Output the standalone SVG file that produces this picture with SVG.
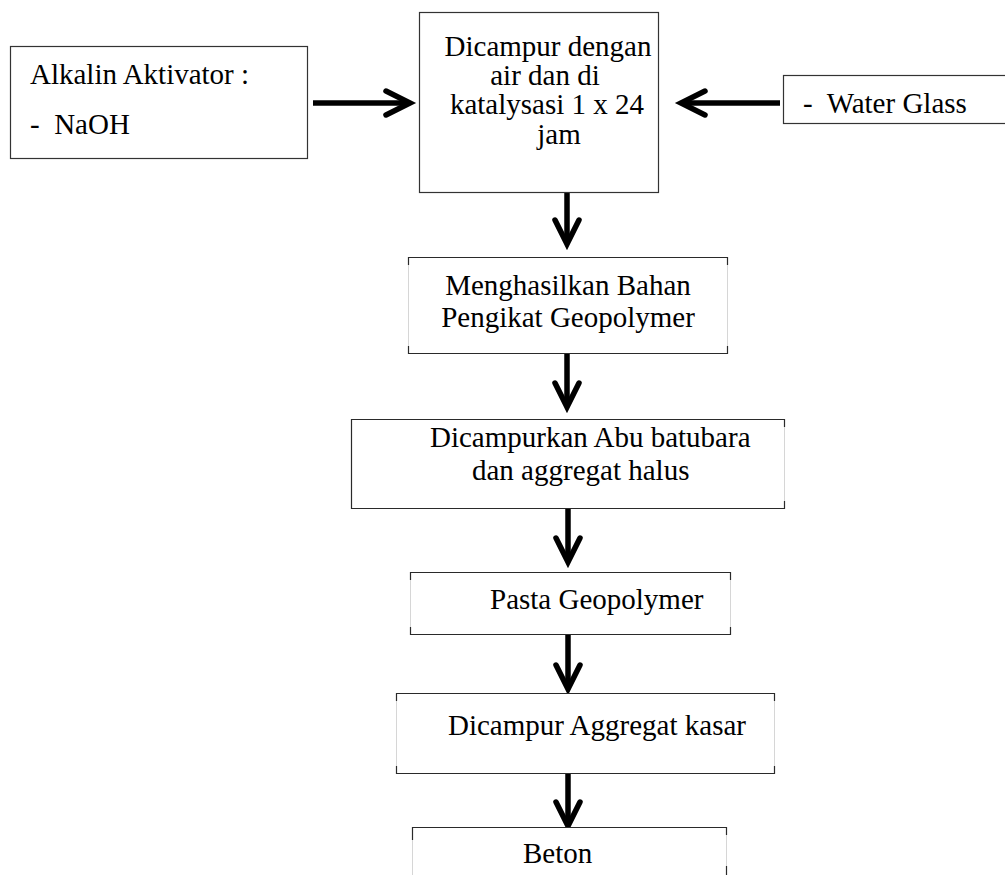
<svg xmlns="http://www.w3.org/2000/svg" width="1005" height="875" viewBox="0 0 1005 875">
  <style>
    .lbl { font-family: "Liberation Serif", "Times New Roman", serif; font-size: 29px; fill: #000; }
    .mid { text-anchor: middle; }
    .box { fill: #fff; stroke: #d6d6d6; stroke-width: 1; }
    .full { fill: #fff; stroke: #333; stroke-width: 1.2; }
    .dark { fill: none; stroke: #2a2a2a; stroke-width: 1.2; }
    .arrow { fill: none; stroke: #000; stroke-width: 5.5; marker-end: url(#chev); }
  </style>
  <defs>
    <marker id="chev" markerUnits="userSpaceOnUse" viewBox="-32 -20 40 40" markerWidth="40" markerHeight="40" refX="0" refY="0" orient="auto">
      <path d="M-24,-12 L0,0 L-24,12" fill="none" stroke="#000" stroke-width="5.5" stroke-linejoin="miter" stroke-linecap="round"/>
    </marker>
  </defs>
  <rect width="1005" height="875" fill="#fff"/>

  <g id="connectors">
    <path class="arrow" d="M313,103 H410"/>
    <path class="arrow" d="M780,103 H681"/>
    <path class="arrow" d="M567,192 V244"/>
    <path class="arrow" d="M567,353 V407"/>
    <path class="arrow" d="M568,508 V562"/>
    <path class="arrow" d="M568,634 V689"/>
    <path class="arrow" d="M568,773 V826"/>
  </g>

  <g id="node-alkalin">
    <rect class="full" x="10.5" y="46.5" width="297" height="112"/>
    <text class="lbl" x="30" y="84">Alkalin Aktivator :</text>
    <text class="lbl" x="30" y="134" xml:space="preserve">-  NaOH</text>
  </g>

  <g id="node-dicampur">
    <rect class="full" x="419.5" y="12.5" width="239" height="180"/>
    <text class="lbl mid" x="548" y="56">Dicampur dengan</text>
    <text class="lbl mid" x="545" y="85">air dan di</text>
    <text class="lbl mid" x="547" y="114">katalysasi 1 x 24</text>
    <text class="lbl mid" x="559" y="144">jam</text>
  </g>

  <g id="node-waterglass">
    <rect class="full" x="783.5" y="75.5" width="240" height="48"/>
    <text class="lbl" x="803" y="113" xml:space="preserve">-  Water Glass</text>
  </g>

  <g id="node-menghasilkan">
    <rect class="box" x="408.5" y="257.5" width="319" height="96"/>
    <path class="dark" d="M408.5,265 V257.5 H727.5 V265 M408.5,346 V353.5 H727.5 V346"/>
    <text class="lbl mid" x="568" y="295">Menghasilkan Bahan</text>
    <text class="lbl mid" x="568" y="327">Pengikat Geopolymer</text>
  </g>

  <g id="node-dicampurkan">
    <rect class="box" x="351.5" y="419.5" width="433" height="89"/>
    <path class="dark" d="M784.5,427 V419.5 H351.5 V508.5 H784.5 V501"/>
    <text class="lbl" x="430" y="447">Dicampurkan Abu batubara</text>
    <text class="lbl" x="472" y="480">dan aggregat halus</text>
  </g>

  <g id="node-pasta">
    <rect class="box" x="410.5" y="572.5" width="320" height="62"/>
    <path class="dark" d="M410.5,580 V572.5 H730.5 V580 M410.5,627 V634.5 H730.5 V627"/>
    <text class="lbl" x="490" y="609">Pasta Geopolymer</text>
  </g>

  <g id="node-aggregat-kasar">
    <rect class="box" x="396.5" y="693.5" width="378" height="80"/>
    <path class="dark" d="M396.5,701 V693.5 H774.5 V701 M396.5,766 V773.5 H774.5 V766"/>
    <text class="lbl" x="448" y="735">Dicampur Aggregat kasar</text>
  </g>

  <g id="node-beton">
    <rect class="box" x="412.5" y="827.5" width="314" height="60"/>
    <path class="dark" d="M412.5,840 V827.5 H726.5 V835 M726.5,866 V875"/>
    <text class="lbl" x="523" y="863">Beton</text>
  </g>
</svg>
